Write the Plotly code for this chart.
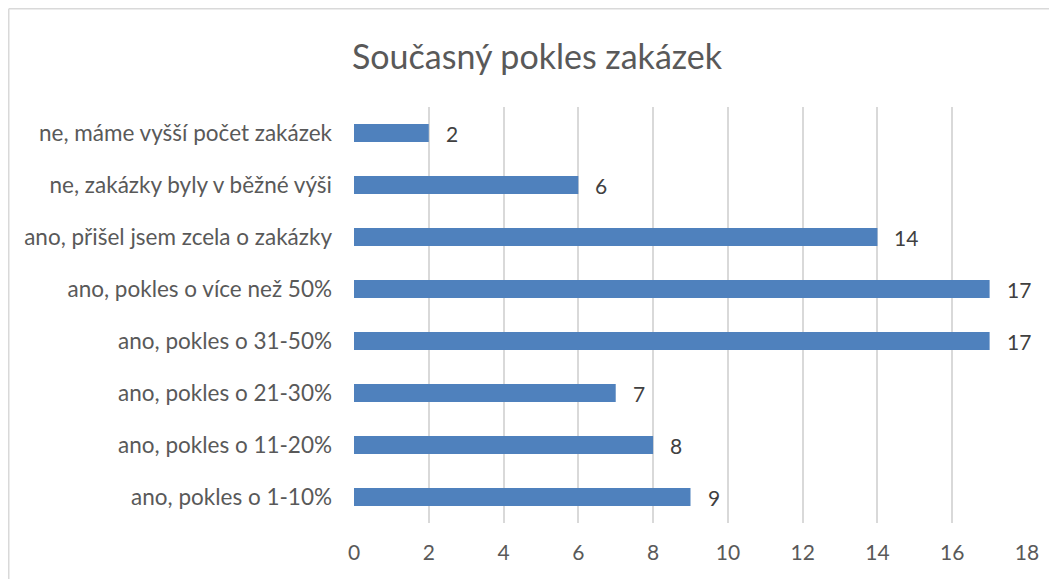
import plotly.graph_objects as go

categories = [
    "ano, pokles o 1-10%",
    "ano, pokles o 11-20%",
    "ano, pokles o 21-30%",
    "ano, pokles o 31-50%",
    "ano, pokles o více než 50%",
    "ano, přišel jsem zcela o zakázky",
    "ne, zakázky byly v běžné výši",
    "ne, máme vyšší počet zakázek",
]
values = [9, 8, 7, 17, 17, 14, 6, 2]
x_ticks = [0, 2, 4, 6, 8, 10, 12, 14, 16, 18]
title_text = "Současný pokles zakázek"

# page is offset by 8px body margin
W, H = 1049, 571
ML, MR, MT, MB = 346, 30, 99, 56
PW, PH = W - ML - MR, H - MT - MB
FONT = "Lato"

fig = go.Figure(go.Bar(
    x=values, y=categories, orientation="h",
    marker=dict(color="#4f81bd", line=dict(width=0)),
    width=0.35,
))

for v, c in zip(values, categories):
    fig.add_annotation(x=v, y=c, text=str(v), showarrow=False,
                       xanchor="left", yanchor="middle", xshift=15,
                       font=dict(family=FONT, size=21, color="#404040"))

fx = lambda px: (px - ML) / PW
fy = lambda py: 1 - (py - MT) / PH

fig.update_layout(
    width=W, height=H,
    margin=dict(l=ML, r=MR, t=MT, b=MB),
    paper_bgcolor="white", plot_bgcolor="white",
    showlegend=False,
    title=dict(text=title_text, x=529 / W, xanchor="center", xref="container",
               y=1 - 49 / H, yanchor="middle",
               font=dict(family=FONT, size=34, color="#595959")),
    xaxis=dict(range=[0, 18], tickvals=x_ticks, showgrid=True,
               gridcolor="#d9d9d9", gridwidth=1.5, zeroline=False,
               showline=False, ticks="", ticklabelstandoff=15,
               tickfont=dict(family=FONT, size=21, color="#595959")),
    yaxis=dict(showgrid=False, zeroline=False, showline=False, ticks="",
               ticklabelstandoff=21,
               tickfont=dict(family=FONT, size=22.5, color="#595959")),
    shapes=[
        dict(type="line", xref="paper", yref="paper", x0=fx(0.75), x1=fx(1100),
             y0=fy(0.75), y1=fy(0.75), line=dict(color="#d9d9d9", width=1.5)),
        dict(type="line", xref="paper", yref="paper", x0=fx(0.75), x1=fx(0.75),
             y0=fy(0.75), y1=fy(620), line=dict(color="#d9d9d9", width=1.5)),
    ],
)
fig.update_xaxes(automargin=False)
fig.update_yaxes(automargin=False)

fig.write_html("out.html")
